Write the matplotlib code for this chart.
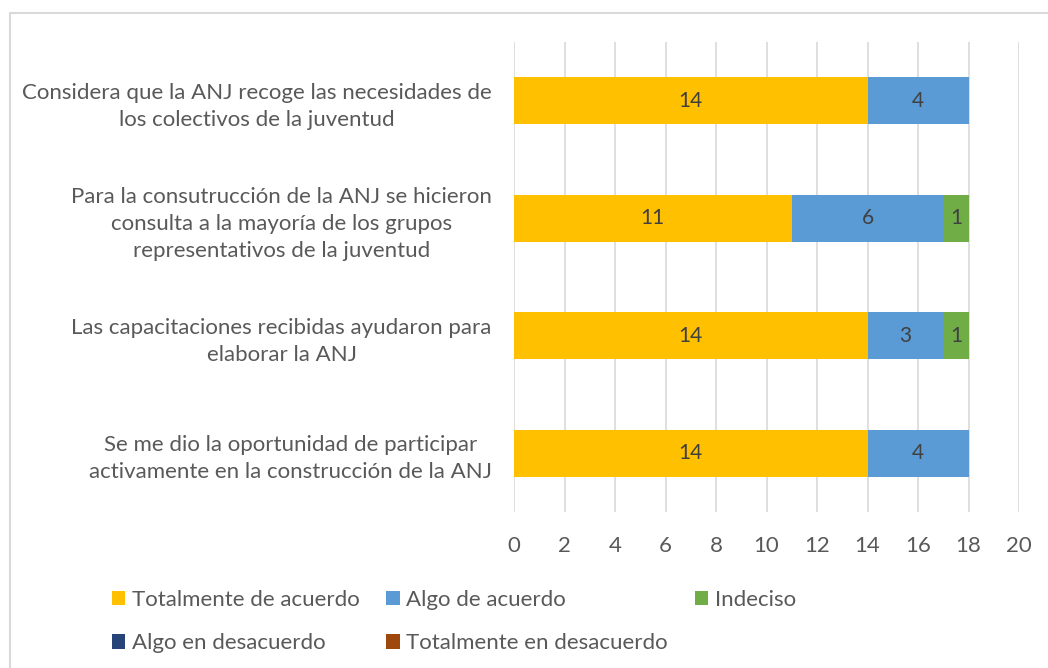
import matplotlib.pyplot as plt
from matplotlib.patches import Rectangle

# categorías (de arriba hacia abajo)
preguntas = [
    "Considera que la ANJ recoge las necesidades de\nlos colectivos de la juventud",
    "Para la consutrucción de la ANJ se hicieron\nconsulta a la mayoría de los grupos\nrepresentativos de la juventud",
    "Las capacitaciones recibidas ayudaron para\nelaborar la ANJ",
    "Se me dio la oportunidad de participar\nactivamente en la construcción de la ANJ",
]
series = ["Totalmente de acuerdo", "Algo de acuerdo", "Indeciso",
          "Algo en desacuerdo", "Totalmente en desacuerdo"]
totalmente_acuerdo = [14, 11, 14, 14]
algo_acuerdo = [4, 6, 3, 4]
indeciso = [0, 1, 1, 0]
algo_desacuerdo = [0, 0, 0, 0]
totalmente_desacuerdo = [0, 0, 0, 0]
xticks = list(range(0, 21, 2))

colores = ["#FFC000", "#5B9BD5", "#70AD47", "#264478", "#9E480E"]
texto = "#595959"

plt.rcParams['font.family'] = ['Lato', 'DejaVu Sans']

fig = plt.figure(figsize=(10.48, 6.68), dpi=100)
ax = fig.add_axes([514/1048, 1 - 512/668, (1019-514)/1048, (512-42)/668])

# marco del gráfico
fig.patches.append(Rectangle((10/1048, -0.1), 1.2, 1 - 13/668 + 0.1,
                             transform=fig.transFigure, fill=False,
                             edgecolor="#d9d9d9", linewidth=1.5))

datos = [totalmente_acuerdo, algo_acuerdo, indeciso, algo_desacuerdo, totalmente_desacuerdo]
y = list(range(len(preguntas)))
izq = [0] * len(preguntas)
for nombre, vals, col in zip(series, datos, colores):
    bars = ax.barh(y, vals, left=izq, height=0.4, color=col, label=nombre, zorder=3)
    for b, v in zip(bars, vals):
        if v > 0:
            ax.text(b.get_x() + b.get_width() / 2, b.get_y() + b.get_height() / 2,
                    str(v), ha="center", va="center", fontsize=15, color="#404040", zorder=4)
    izq = [a + b for a, b in zip(izq, vals)]

ax.set_ylim(3.5, -0.5)
ax.set_xlim(0, 20)
ax.set_xticks(xticks)
ax.set_yticks(y)
ax.set_yticklabels(preguntas, fontsize=16, color=texto, ha="right",
                   multialignment="center", linespacing=1.45)
ax.tick_params(axis="x", labelsize=16, colors=texto, length=0, pad=17)
ax.tick_params(axis="y", length=0, pad=16)
ax.grid(axis="x", color="#d9d9d9", linewidth=1.2, zorder=0)
for s in ax.spines.values():
    s.set_visible(False)

# leyenda en orden por filas
h, l = ax.get_legend_handles_labels()
orden = [0, 3, 1, 4, 2]
fig.legend([h[i] for i in orden], [l[i] for i in orden],
           loc="upper left", bbox_to_anchor=(92/1048, 1 - 570/668), ncol=3,
           frameon=False, fontsize=16, labelcolor=texto, handlelength=0.6,
           handleheight=0.6, handletextpad=0.3, columnspacing=1.2, labelspacing=1.05)

fig.savefig("out.png", dpi=100)
